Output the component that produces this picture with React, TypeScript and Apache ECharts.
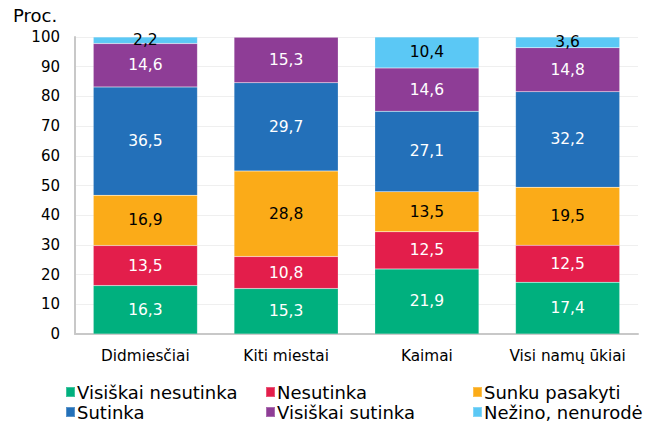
import React, { useEffect, useRef } from "react";
import * as echarts from "echarts";

const categories = ["Didmiesčiai", "Kiti miestai", "Kaimai", "Visi namų ūkiai"];
const visiskaiNesutinka = [16.3, 15.3, 21.9, 17.4];
const nesutinka = [13.5, 10.8, 12.5, 12.5];
const sunkuPasakyti = [16.9, 28.8, 13.5, 19.5];
const sutinka = [36.5, 29.7, 27.1, 32.2];
const visiskaiSutinka = [14.6, 15.3, 14.6, 14.8];
const nezino = [2.2, null, 10.4, 3.6];

const FONT = "DejaVu Sans";

export default function App() {
  const ref = useRef<HTMLDivElement>(null);
  useEffect(() => {
    document.body.style.margin = "0";
    const chart = echarts.init(ref.current!, null, { renderer: "svg" });
    const mk = (name: string, data: (number | null)[], color: string, labelColor: string) => ({
      name,
      type: "bar",
      stack: "total",
      data,
      barWidth: "74%",
      itemStyle: { color, borderColor: "rgba(255,255,255,0.25)", borderWidth: 0.5 },
      label: {
        show: true,
        position: "inside",
        color: labelColor,
        fontFamily: FONT,
        fontSize: 15.5,
        formatter: (p: any) => (p.value == null ? "" : String(p.value).replace(".", ",")),
      },
    });
    const lg = (name: string, left: number, top: number) => ({
      orient: "horizontal",
      left,
      top,
      padding: 0,
      itemWidth: 9,
      itemHeight: 10,
      icon: "rect",
      selectedMode: false,
      data: [name],
      textStyle: { fontFamily: FONT, fontSize: 18, color: "#000", padding: [0, 0, 0, -3] },
    });
    chart.setOption({
      animation: false,
      grid: { left: 75, right: 22, top: 37, bottom: 106 },
      legend: [
        lg("Visiškai nesutinka", 65, 383),
        lg("Sutinka", 65, 403),
        lg("Nesutinka", 265, 383),
        lg("Visiškai sutinka", 265, 403),
        lg("Sunku pasakyti", 472, 383),
        lg("Nežino, nenurodė", 472, 403),
      ],
      graphic: [
        {
          type: "text",
          left: 13,
          top: 6,
          style: { text: "Proc.", fontFamily: FONT, fontSize: 18, fill: "#000" },
        },
      ],
      xAxis: {
        type: "category",
        data: categories,
        axisLine: { lineStyle: { color: "#c8c8c8", width: 2 } },
        axisTick: { show: false },
        axisLabel: { interval: 0, fontFamily: FONT, fontSize: 15.3, color: "#000", margin: 14 },
      },
      yAxis: {
        type: "value",
        min: 0,
        max: 100,
        interval: 10,
        axisLine: { show: true, lineStyle: { color: "#c8c8c8", width: 2 } },
        axisTick: { show: false },
        splitLine: { lineStyle: { color: "#efefef" } },
        axisLabel: { fontFamily: FONT, fontSize: 15, color: "#000", margin: 15 },
      },
      series: [
        mk("Visiškai nesutinka", visiskaiNesutinka, "#00B07E", "#fff"),
        mk("Nesutinka", nesutinka, "#E31E4B", "#fff"),
        mk("Sunku pasakyti", sunkuPasakyti, "#FBAB18", "#000"),
        mk("Sutinka", sutinka, "#2370B9", "#fff"),
        mk("Visiškai sutinka", visiskaiSutinka, "#8E3D96", "#fff"),
        mk("Nežino, nenurodė", nezino, "#5BC8F5", "#000"),
      ],
    });
    return () => chart.dispose();
  }, []);
  return <div ref={ref} style={{ width: 660, height: 440 }} />;
}
